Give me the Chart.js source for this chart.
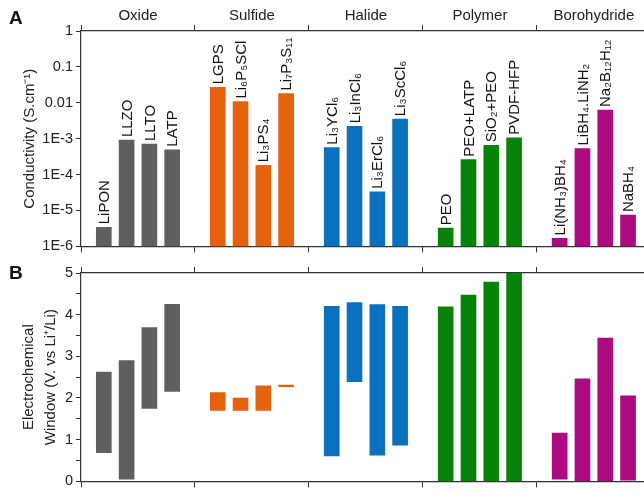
<!DOCTYPE html>
<html>
<head>
<meta charset="utf-8">
<script src="https://cdn.jsdelivr.net/npm/chart.js@4.4.1/dist/chart.umd.min.js"></script>
<style>
  body { margin: 0; background: #fff; overflow: hidden; }
  #wrap { position: relative; width: 644px; height: 493px; }
  canvas { position: absolute; left: 0; }
  #chartA { top: 0; }
  #chartB { top: 258px; }
</style>
</head>
<body>
<div id="wrap">
  <canvas id="chartA" width="644" height="258"></canvas>
  <canvas id="chartB" width="644" height="235"></canvas>
</div>
<script>
// groups of electrolytes, 4 materials each
const groups = ['Oxide', 'Sulfide', 'Halide', 'Polymer', 'Borohydride'];
const groupColors = ['#5f5f5f', '#e4610d', '#0b70be', '#078407', '#ad0a7f'];

const materials = [
    'LiPON', 'LLZO', 'LLTO', 'LATP',
    'LGPS', 'Li₆P₅SCl', 'Li₃PS₄', 'Li₇P₃S₁₁',
    'Li₃YCl₆', 'Li₃InCl₆', 'Li₃ErCl₆', 'Li₃ScCl₆',
    'PEO', 'PEO+LATP', 'SiO₂+PEO', 'PVDF-HFP',
    'Li(NH₃)BH₄', 'LiBH₄.LiNH₂', 'Na₂B₁₂H₁₂', 'NaBH₄'
];

// conductivity in S/cm (panel A)
const conductivity = [
    3.4e-6, 9.1e-4, 7.1e-4, 4.9e-4,
    0.027, 0.0108, 1.8e-4, 0.018,
    5.6e-4, 2.2e-3, 3.3e-5, 3.5e-3,
    3.2e-6, 2.6e-4, 6.5e-4, 1.06e-3,
    1.66e-6, 5.3e-4, 6.3e-3, 7.4e-6
];

// electrochemical window in V vs Li+/Li (panel B)
const windowLow = [
    0.69, 0.05, 1.75, 2.16,
    1.70, 1.70, 1.70, 2.27,
    0.61, 2.39, 0.63, 0.87,
    0, 0, 0, 0,
    0.05, 0, 0, 0.03
];
const windowHigh = [
    2.62, 2.90, 3.69, 4.25,
    2.13, 2.00, 2.29, 2.31,
    4.20, 4.29, 4.24, 4.20,
    4.19, 4.47, 4.78, 5.0,
    1.16, 2.46, 3.44, 2.05
];

const conductivityTicks = [1e-6, 1e-5, 1e-4, 1e-3, 0.01, 0.1, 1];

Chart.defaults.font.family = "'Liberation Sans', Arial, sans-serif";
Chart.defaults.color = '#222';

const axisColor = '#333';
const slotsPerGroup = 5;
const xMax = 24.7;   // right side of the figure is cut

// x position of each material: slot 1..4 inside its group
function slotOf(i) {
    return Math.floor(i / 4) * slotsPerGroup + (i % 4) + 1;
}
const barColors = materials.map((m, i) => groupColors[Math.floor(i / 4)]);
const groupBounds = groups.map((g, i) => i * slotsPerGroup);

function fixWidth(w) { return function(scale) { scale.width = w; }; }
function fixHeight(h) { return function(scale) { scale.height = h; }; }

// x axes: tick marks at group bounds, pointing outwards
function bottomAxis(h) {
    return {
        type: 'linear', position: 'bottom', min: 0, max: xMax, offset: false,
        afterBuildTicks: s => { s.ticks = groupBounds.map(v => ({value: v})); },
        afterFit: fixHeight(h),
        ticks: { display: false },
        grid: { offset: false, drawOnChartArea: false, tickLength: 6, tickColor: axisColor },
        border: { color: axisColor, width: 1.2 }
    };
}

function topAxis(h, withNames) {
    return {
        type: 'linear', position: 'top', min: 0, max: xMax, offset: false,
        afterBuildTicks: s => {
            var t = [];
            groupBounds.forEach(v => { t.push({value: v}); t.push({value: v + slotsPerGroup / 2}); });
            s.ticks = t;
        },
        afterFit: fixHeight(h),
        ticks: {
            display: withNames, autoSkip: false, maxRotation: 0, padding: 0,
            font: { size: 15 },
            callback: v => (v % slotsPerGroup !== 0) ? groups[Math.floor(v / slotsPerGroup)] : ''
        },
        grid: {
            offset: false, drawOnChartArea: false, tickLength: 6,
            tickColor: ctx => (ctx.tick && ctx.tick.value % slotsPerGroup === 0) ? axisColor : 'rgba(0,0,0,0)'
        },
        border: { color: axisColor, width: 1.2 }
    };
}

// rotated material names on top of each conductivity bar
const barLabels = {
    id: 'barLabels',
    afterDatasetsDraw(chart) {
        const ctx = chart.ctx;
        const meta = chart.getDatasetMeta(0);
        ctx.save();
        ctx.fillStyle = '#111';
        ctx.font = "15px 'Liberation Sans', Arial, sans-serif";
        ctx.textAlign = 'left';
        ctx.textBaseline = 'middle';
        meta.data.forEach((bar, i) => {
            ctx.save();
            ctx.translate(bar.x, bar.y - 3);
            ctx.rotate(-Math.PI / 2);
            ctx.fillText(materials[i], 0, 1);
            ctx.restore();
        });
        ctx.restore();
    }
};

// panel letter in the upper left corner
function panelLetter(letter, y) {
    return {
        id: 'panel' + letter,
        afterDraw(chart) {
            const ctx = chart.ctx;
            ctx.save();
            ctx.fillStyle = '#111';
            ctx.font = "bold 19px 'Liberation Sans', Arial, sans-serif";
            ctx.textBaseline = 'middle';
            ctx.fillText(letter, 9, y);
            ctx.restore();
        }
    };
}

const chartA = new Chart(document.getElementById('chartA').getContext('2d'), {
    type: 'bar',
    data: {
        datasets: [{
            data: materials.map((m, i) => ({x: slotOf(i), y: conductivity[i]})),
            backgroundColor: barColors,
            barThickness: 15
        }]
    },
    options: {
        responsive: false,
        animation: false,
        layout: { padding: 0 },
        plugins: { legend: { display: false }, tooltip: { enabled: false } },
        scales: {
            x: bottomAxis(10),
            xTop: topAxis(31, true),
            y: {
                type: 'logarithmic', min: 1e-6, max: 1,
                afterBuildTicks: s => { s.ticks = conductivityTicks.map(v => ({value: v})); },
                afterFit: fixWidth(81),
                ticks: {
                    font: { size: 14.5 }, padding: 3,
                    callback: v => v >= 0.01 ? String(v) : '1E' + Math.round(Math.log10(v))
                },
                grid: { drawOnChartArea: false, tickLength: 5, tickColor: axisColor },
                border: { color: axisColor, width: 1.2 },
                title: {
                    display: true, text: 'Conductivity (S.cm⁻¹)',
                    font: { size: 15 }, padding: { top: 21, bottom: 0 }
                }
            }
        }
    },
    plugins: [barLabels, panelLetter('A', 19)]
});

const chartB = new Chart(document.getElementById('chartB').getContext('2d'), {
    type: 'bar',
    data: {
        datasets: [{
            data: materials.map((m, i) => ({x: slotOf(i), y: [windowLow[i], windowHigh[i]]})),
            backgroundColor: barColors,
            barThickness: 15
        }]
    },
    options: {
        responsive: false,
        animation: false,
        layout: { padding: 0 },
        plugins: { legend: { display: false }, tooltip: { enabled: false } },
        scales: {
            x: bottomAxis(2),
            xTop: topAxis(15, false),
            y: {
                type: 'linear', min: 0, max: 5,
                afterFit: fixWidth(81),
                ticks: {
                    stepSize: 0.5, font: { size: 14.5 }, padding: 3,
                    callback: v => Number.isInteger(v) ? v : ''
                },
                grid: { drawOnChartArea: false, tickLength: 5, tickColor: axisColor },
                border: { color: axisColor, width: 1.2 },
                title: {
                    display: true, text: ['Electrochemical', 'Window (V. vs Li⁺/Li)'],
                    font: { size: 15, lineHeight: 1.45 }, padding: { top: 18, bottom: 0 }
                }
            }
        }
    },
    plugins: [panelLetter('B', 16)]
});
</script>
</body>
</html>
